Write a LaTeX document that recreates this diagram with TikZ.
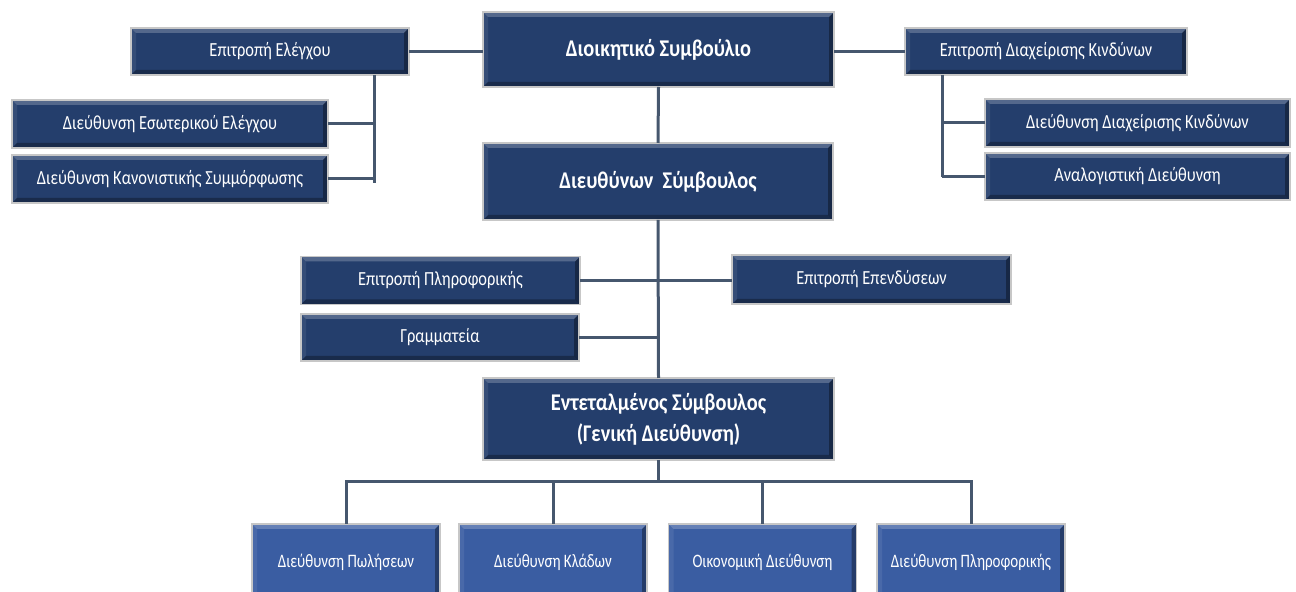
\documentclass[tikz,border=0pt]{standalone}
\usepackage{fontspec}
\setmainfont{Carlito}
\newfontfamily\unitfont{Carlito}[FakeStretch=0.82]
\newfontfamily\topfont{Carlito}[FakeStretch=0.85]
\newfontfamily\deptfont{Carlito}[FakeStretch=0.79]
\definecolor{boardblue}{HTML}{243E6C}
\definecolor{deptblue}{HTML}{3A5DA2}
\definecolor{linkgray}{HTML}{46576E}
\tikzset{
  bevel/.style={path picture={
    \fill[white,opacity=0.22] (path picture bounding box.north west) -- (path picture bounding box.north east)
      -- ([shift={(-2.5pt,-2.5pt)}]path picture bounding box.north east) -- ([shift={(2.5pt,-2.5pt)}]path picture bounding box.north west) -- cycle;
    \fill[black,opacity=0.3] (path picture bounding box.south west) -- (path picture bounding box.south east)
      -- ([shift={(-2.5pt,2.5pt)}]path picture bounding box.south east) -- ([shift={(2.5pt,2.5pt)}]path picture bounding box.south west) -- cycle;
    \fill[black,opacity=0.35] (path picture bounding box.north east) -- (path picture bounding box.south east)
      -- ([shift={(-2.5pt,2.5pt)}]path picture bounding box.south east) -- ([shift={(-2.5pt,-2.5pt)}]path picture bounding box.north east) -- cycle;
    \fill[white,opacity=0.08] (path picture bounding box.north west) -- (path picture bounding box.south west)
      -- ([shift={(2.5pt,2.5pt)}]path picture bounding box.south west) -- ([shift={(2.5pt,-2.5pt)}]path picture bounding box.north west) -- cycle;
  }},
  unit/.style={rectangle, draw=black!22, line width=0.7pt, fill=boardblue, bevel, text=white,
    align=center, inner sep=2pt, outer sep=0pt, font=\unitfont\fontsize{10}{12}\selectfont},
  topunit/.style={unit, font=\topfont\fontsize{12}{15.5}\selectfont\bfseries},
  dept/.style={unit, fill=deptblue, font=\deptfont\fontsize{9.5}{11}\selectfont},
  link/.style={draw=linkgray, line width=1.5pt}
}
\begin{document}
\begin{tikzpicture}[x=0.5pt,y=-0.5pt]
\useasboundingbox (0,0) rectangle (1296,592);
\clip (0,0) rectangle (1296,592);

\node[topunit, minimum width=175.5pt, minimum height=37.5pt] (board) at (658.5,49.5) {Διοικητικό Συμβούλιο};
\node[topunit, minimum width=175pt, minimum height=38.5pt] (ceo) at (658,181.5) {Διευθύνων \ Σύμβουλος};
\node[topunit, minimum width=175.5pt, minimum height=41pt] (gm) at (658.5,419) {Εντεταλμένος Σύμβουλος\\(Γενική Διεύθυνση)};

\node[unit, minimum width=139pt, minimum height=23.5pt] (audit) at (270,51.5) {Επιτροπή Ελέγχου};
\node[unit, minimum width=158pt, minimum height=24pt] (intaudit) at (170,124) {Διεύθυνση Εσωτερικού Ελέγχου};
\node[unit, minimum width=158pt, minimum height=24pt] (compl) at (170,179) {Διεύθυνση Κανονιστικής Συμμόρφωσης};

\node[unit, minimum width=141pt, minimum height=23.5pt] (riskcom) at (1046,51.5) {Επιτροπή Διαχείρισης Κινδύνων};
\node[unit, minimum width=152.5pt, minimum height=24pt] (riskdir) at (1137.5,123) {Διεύθυνση Διαχείρισης Κινδύνων};
\node[unit, minimum width=152.5pt, minimum height=23.5pt] (actuar) at (1137.5,176.5) {Αναλογιστική Διεύθυνση};

\node[unit, minimum width=139.5pt, minimum height=24pt] (itcom) at (440.5,280.5) {Επιτροπή Πληροφορικής};
\node[unit, minimum width=139pt, minimum height=23.5pt] (secr) at (440,337.5) {Γραμματεία};
\node[unit, minimum width=139.5pt, minimum height=24.5pt] (invcom) at (871.5,279.5) {Επιτροπή Επενδύσεων};

\node[dept, minimum width=94pt, minimum height=38pt] (sales) at (346,562) {Διεύθυνση Πωλήσεων};
\node[dept, minimum width=94pt, minimum height=38pt] (branches) at (553,562) {Διεύθυνση Κλάδων};
\node[dept, minimum width=94pt, minimum height=38pt] (finance) at (762.5,562) {Οικονομική Διεύθυνση};
\node[dept, minimum width=94pt, minimum height=38pt] (itdir) at (971,562) {Διεύθυνση Πληροφορικής};

\coordinate (abus) at (374,183);
\coordinate (rbus) at (942,177);
\coordinate (gbus) at (658.5,482);

\draw[link] (audit.east) -- (audit.east -| board.west);
\draw[link] (board.east |- riskcom.west) -- (riskcom.west);
\draw[link] (board.south) -- (ceo.north);
\draw[link] (audit.south -| abus) -- (abus);
\draw[link] (intaudit.east) -- (intaudit.east -| abus);
\draw[link] (compl.east) -- (compl.east -| abus);
\draw[link] (riskcom.south -| rbus) -- (rbus);
\draw[link] (riskdir.west) -- (riskdir.west -| rbus);
\draw[link] (actuar.west) -- (actuar.west -| rbus);

\draw[link] (ceo.south) -- (gm.north);
\draw[link] (itcom.east) -- (itcom.east -| invcom.west);
\draw[link] (secr.east) -- (secr.east -| ceo.south);

\draw[link] (gm.south) -- (gbus);
\draw[link] (sales.north) |- (gbus) -| (itdir.north);
\foreach \d in {branches,finance}
  \draw[link] (\d.north) -- (\d.north |- gbus);
\end{tikzpicture}
\end{document}
